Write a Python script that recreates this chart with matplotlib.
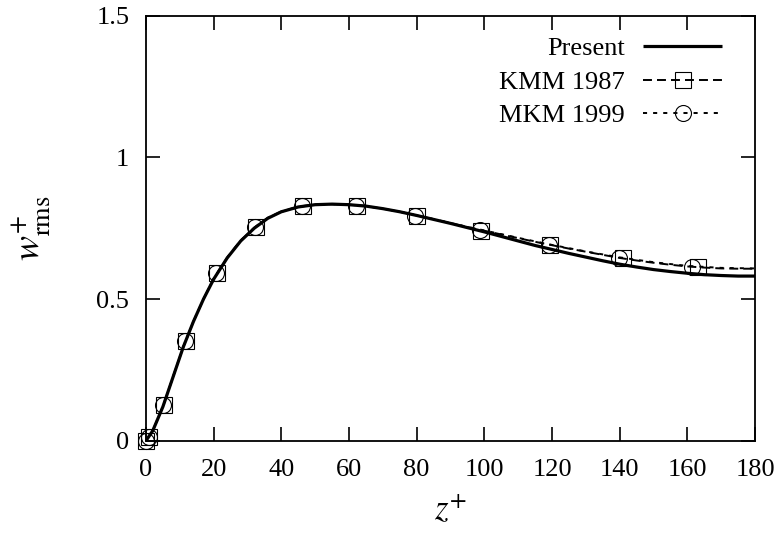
import matplotlib
matplotlib.use("Agg")
import matplotlib.pyplot as plt

plt.rcParams['font.family'] = ['Liberation Serif', 'DejaVu Serif']
plt.rcParams['mathtext.fontset'] = 'stix'

#---------------Data------------------------------------------------

# Present simulation, w_rms+ vs z+
present_z = [0, 2, 5, 8, 11, 14, 17, 20, 24, 28, 32, 36, 40, 45, 50, 55, 60, 65, 70,
             75, 80, 85, 90, 95, 100, 105, 110, 115, 120, 125, 130, 135, 140, 145,
             150, 155, 160, 165, 170, 175, 180]
present_w = [0, 0.035, 0.12, 0.225, 0.33, 0.42, 0.5, 0.57, 0.645, 0.705, 0.75, 0.785,
             0.808, 0.825, 0.833, 0.835, 0.833, 0.828, 0.819, 0.808, 0.795, 0.781,
             0.767, 0.752, 0.737, 0.721, 0.705, 0.689, 0.675, 0.661, 0.648, 0.635,
             0.623, 0.613, 0.604, 0.597, 0.591, 0.586, 0.583, 0.581, 0.581]

# KMM 1987 (dashed line + square symbols)
kmm_z = [0, 2, 5, 8, 11, 14, 17, 20, 24, 28, 32, 36, 40, 45, 50, 55, 60, 65, 70,
         75, 80, 85, 90, 95, 100, 105, 110, 115, 120, 125, 130, 135, 140, 145,
         150, 155, 160, 165, 170, 175, 180]
kmm_w = [0, 0.036, 0.121, 0.226, 0.331, 0.421, 0.5, 0.572, 0.647, 0.707, 0.752, 0.787,
         0.809, 0.826, 0.834, 0.835, 0.833, 0.828, 0.819, 0.808, 0.795, 0.782,
         0.768, 0.754, 0.741, 0.728, 0.715, 0.702, 0.690, 0.678, 0.667, 0.656,
         0.645, 0.636, 0.628, 0.621, 0.615, 0.611, 0.608, 0.607, 0.607]
kmm_sym_z = [0, 1.0, 5.2, 11.7, 21.0, 32.6, 46.3, 62.3, 80.0, 99.0, 119.5, 141.0, 163.0]
kmm_sym_w = [0, 0.014, 0.126, 0.352, 0.592, 0.755, 0.828, 0.829, 0.793, 0.741, 0.690, 0.645, 0.614]

# MKM 1999 (dotted line + circle symbols)
mkm_z = [0, 2, 5, 8, 11, 14, 17, 20, 24, 28, 32, 36, 40, 45, 50, 55, 60, 65, 70,
         75, 80, 85, 90, 95, 100, 110, 120, 130, 140, 150, 160, 170, 180]
mkm_w = [0, 0.035, 0.12, 0.225, 0.33, 0.42, 0.5, 0.571, 0.646, 0.706, 0.751, 0.786,
         0.808, 0.825, 0.833, 0.835, 0.833, 0.828, 0.819, 0.808, 0.795, 0.782,
         0.768, 0.755, 0.742, 0.716, 0.691, 0.668, 0.647, 0.630, 0.617, 0.610, 0.608]
mkm_sym_z = [0, 1.0, 5.0, 11.5, 20.8, 32.3, 46.2, 62.2, 79.4, 98.6, 119.2, 139.8, 161.3]
mkm_sym_w = [0, 0.014, 0.126, 0.352, 0.592, 0.755, 0.828, 0.829, 0.793, 0.743, 0.691, 0.645, 0.614]

x_ticks = [0, 20, 40, 60, 80, 100, 120, 140, 160, 180]
y_ticks = [0, 0.5, 1, 1.5]
y_tick_labels = ['0', '0.5', '1', '1.5']

#---------------Plot-------------------------------------------------

fig = plt.figure(figsize=(7.82, 5.33), dpi=100)
ax = fig.add_axes([0.1867, 0.1732, 0.7788, 0.7973])

p_line, = ax.plot(present_z, present_w, color='black', lw=2.3, solid_capstyle='butt')

k_line, = ax.plot(kmm_z, kmm_w, color='black', lw=1.4, dashes=(4.6, 2.6))
k_sym, = ax.plot(kmm_sym_z, kmm_sym_w, ls='none', marker='s', ms=11.5,
                 mfc='none', mec='black', mew=0.8, clip_on=False)

m_line, = ax.plot(mkm_z, mkm_w, color='black', lw=1.4, dashes=(2.1, 3.1))
m_sym, = ax.plot(mkm_sym_z, mkm_sym_w, ls='none', marker='o', ms=11.5,
                 mfc='none', mec='black', mew=0.8, clip_on=False)

ax.set_xlim(0, 180)
ax.set_ylim(0, 1.5)
ax.set_xticks(x_ticks)
ax.set_yticks(y_ticks)
ax.set_yticklabels(y_tick_labels)
ax.tick_params(direction='in', length=10, width=1.2, labelsize=19,
               top=True, right=True)
ax.tick_params(axis='x', pad=13)
ax.tick_params(axis='y', pad=12)
for s in ax.spines.values():
    s.set_linewidth(1.3)

ax.set_xlabel(r'$z^{+}$', fontsize=25, labelpad=10)
ax.set_ylabel(r'$w^{+}_{\mathrm{rms}}$', fontsize=27, labelpad=31)

leg = ax.legend([p_line, (k_line, k_sym), (m_line, m_sym)],
                ['Present', 'KMM 1987', 'MKM 1999'],
                loc='upper right', bbox_to_anchor=(0.946, 0.950),
                frameon=False, markerfirst=False, numpoints=1,
                handlelength=3.0, handletextpad=0.7, labelspacing=0.38,
                borderpad=0, borderaxespad=0, fontsize=19)

fig.savefig('out.png', dpi=100)
